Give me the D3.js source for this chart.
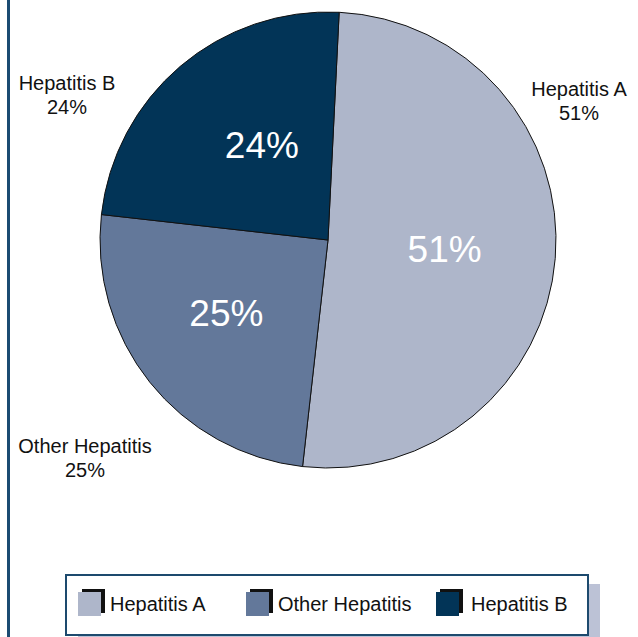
<!DOCTYPE html>
<html>
<head>
<meta charset="utf-8">
<script src="https://cdn.jsdelivr.net/npm/d3@7"></script>
<style>
  body { margin: 0; background: #fff; }
  svg { display: block; font-family: "Liberation Sans", Arial, sans-serif; }
</style>
</head>
<body>
<svg id="viz"></svg>
<script>
// chart data
const categories = ["Hepatitis A", "Other Hepatitis", "Hepatitis B"];
const shares = [51, 25, 24];
const colors = ["#aeb6ca", "#63789a", "#023457"];

// layout bits (not data)
const W = 638, H = 637;
const cx = 328, cy = 240, R = 228;
const start = 0.049; // first slice starts a touch right of 12 o'clock
const innerLabelR = 116;
const innerNudge = [[1, 0], [-11, 1], [9, -7]];
const outerLabelPos = [[579, 96], [85, 453], [67, 90]];
const legendX = [78, 246, 436];

const svg = d3.select("#viz").attr("width", W).attr("height", H);

// left rule
svg.append("line")
  .attr("x1", 8.5).attr("x2", 8.5).attr("y1", 0).attr("y2", H)
  .attr("stroke", "#1b4b72").attr("stroke-width", 3);

const pie = d3.pie().sort(null).value(d => d)
  .startAngle(start).endAngle(start + 2 * Math.PI);
const arcs = pie(shares);
const arc = d3.arc().innerRadius(0).outerRadius(R);
const labelArc = d3.arc().innerRadius(innerLabelR).outerRadius(innerLabelR);

const g = svg.append("g").attr("transform", `translate(${cx},${cy})`);

g.selectAll("path.slice")
  .data(arcs)
  .join("path")
  .attr("class", "slice")
  .attr("d", arc)
  .attr("fill", (d, i) => colors[i])
  .attr("stroke", "#111")
  .attr("stroke-width", 1);

// percentages inside slices
g.selectAll("text.inner")
  .data(arcs)
  .join("text")
  .attr("class", "inner")
  .attr("transform", (d, i) => {
    const c = labelArc.centroid(d);
    return `translate(${c[0] + innerNudge[i][0]},${c[1] + 13 + innerNudge[i][1]})`;
  })
  .attr("text-anchor", "middle")
  .attr("fill", "#fff")
  .attr("font-size", 37)
  .text((d, i) => shares[i] + "%");

// outside labels
const outer = svg.selectAll("g.outer")
  .data(categories)
  .join("g")
  .attr("class", "outer")
  .attr("transform", (d, i) => `translate(${outerLabelPos[i][0]},${outerLabelPos[i][1]})`);
outer.append("text")
  .attr("text-anchor", "middle").attr("font-size", 20).attr("fill", "#111")
  .text(d => d);
outer.append("text")
  .attr("text-anchor", "middle").attr("font-size", 20).attr("fill", "#111")
  .attr("y", 24)
  .text((d, i) => shares[i] + "%");

// legend
const lg = svg.append("g");
lg.append("rect")
  .attr("x", 78).attr("y", 584).attr("width", 522).attr("height", 60)
  .attr("fill", "#bcc2d6");
lg.append("rect")
  .attr("x", 66).attr("y", 575).attr("width", 522).attr("height", 60)
  .attr("fill", "#fff").attr("stroke", "#1d4a6e").attr("stroke-width", 2);

const items = lg.selectAll("g.item")
  .data(categories)
  .join("g")
  .attr("class", "item")
  .attr("transform", (d, i) => `translate(${legendX[i]},592)`);
items.append("rect")
  .attr("x", 4).attr("y", -3).attr("width", 23).attr("height", 24)
  .attr("fill", "#111");
items.append("rect")
  .attr("x", 0).attr("y", 0).attr("width", 23).attr("height", 24)
  .attr("fill", (d, i) => colors[i]);
items.append("text")
  .attr("x", (d, i) => i === 2 ? 35 : 32)
  .attr("y", 19)
  .attr("font-size", 20)
  .attr("fill", "#111")
  .text(d => d);
</script>
</body>
</html>
